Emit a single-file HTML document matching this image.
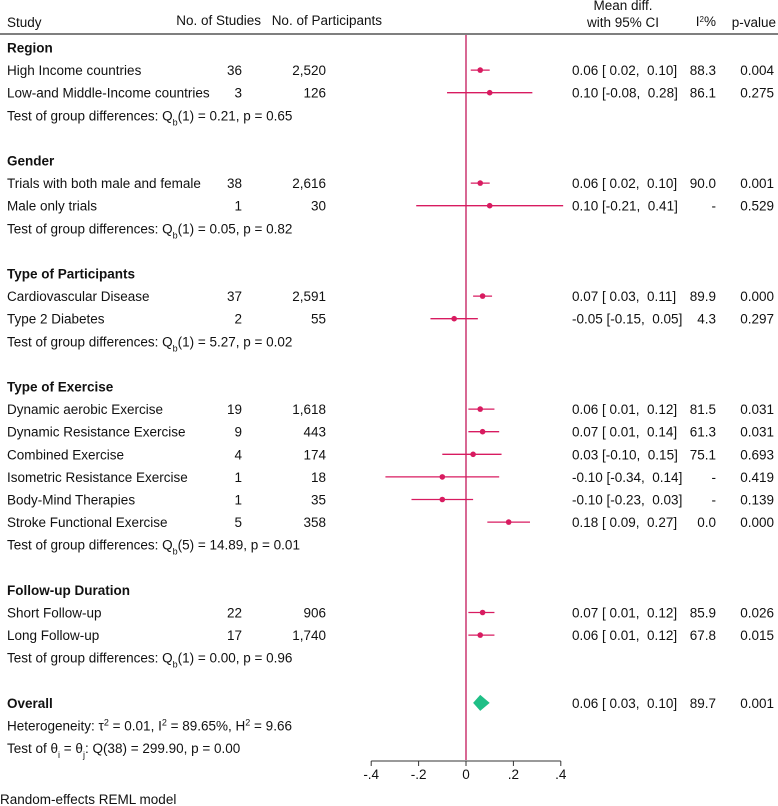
<!DOCTYPE html>
<html><head><meta charset="utf-8"><style>
body{margin:0;background:#fff}
svg{display:block;font-family:"Liberation Sans",Arial,sans-serif;font-size:13.5px;fill:#111}
</style></head><body>
<svg id="c" width="778" height="806" viewBox="0 0 778 806"></svg>
<script>
// rows: type h=heading, s=study, t=test text, o=overall, x=extra text, b=blank
const rowTypes=["h","s","s","t","b","h","s","s","t","b","h","s","s","t","b","h","s","s","s","s","s","s","t","b","h","s","s","t","b","o","x","x"];
const rowLabels=["Region","High Income countries","Low-and Middle-Income countries","Test of group differences: Q<sub>b</sub>(1) = 0.21, p = 0.65","",
"Gender","Trials with both male and female","Male only trials","Test of group differences: Q<sub>b</sub>(1) = 0.05, p = 0.82","",
"Type of Participants","Cardiovascular Disease","Type 2 Diabetes","Test of group differences: Q<sub>b</sub>(1) = 5.27, p = 0.02","",
"Type of Exercise","Dynamic aerobic Exercise","Dynamic Resistance Exercise","Combined Exercise","Isometric Resistance Exercise","Body-Mind Therapies","Stroke Functional Exercise","Test of group differences: Q<sub>b</sub>(5) = 14.89, p = 0.01","",
"Follow-up Duration","Short Follow-up","Long Follow-up","Test of group differences: Q<sub>b</sub>(1) = 0.00, p = 0.96","",
"Overall","Heterogeneity: τ<sup>2</sup> = 0.01, I<sup>2</sup> = 89.65%, H<sup>2</sup> = 9.66","Test of θ<sub>i</sub> = θ<sub>j</sub>: Q(38) = 299.90, p = 0.00"];
const nStudies=["","36","3","","","","38","1","","","","37","2","","","","19","9","4","1","1","5","","","","22","17","","","","",""];
const nPart=["","2,520","126","","","","2,616","30","","","","2,591","55","","","","1,618","443","174","18","35","358","","","","906","1,740","","","","",""];
const est=[null,0.06,0.10,null,null,null,0.06,0.10,null,null,null,0.07,-0.05,null,null,null,0.06,0.07,0.03,-0.10,-0.10,0.18,null,null,null,0.07,0.06,null,null,0.06,null,null];
const lo=[null,0.02,-0.08,null,null,null,0.02,-0.21,null,null,null,0.03,-0.15,null,null,null,0.01,0.01,-0.10,-0.34,-0.23,0.09,null,null,null,0.01,0.01,null,null,0.03,null,null];
const hi=[null,0.10,0.28,null,null,null,0.10,0.41,null,null,null,0.11,0.05,null,null,null,0.12,0.14,0.15,0.14,0.03,0.27,null,null,null,0.12,0.12,null,null,0.10,null,null];
const i2=["","88.3","86.1","","","","90.0","-","","","","89.9","4.3","","","","81.5","61.3","75.1","-","-","0.0","","","","85.9","67.8","","","89.7","",""];
const pval=["","0.004","0.275","","","","0.001","0.529","","","","0.000","0.297","","","","0.031","0.031","0.693","0.419","0.139","0.000","","","","0.026","0.015","","","0.001","",""];
const ticks=[-0.4,-0.2,0,0.2,0.4];
const tickLabels=["-.4","-.2","0",".2",".4"];

const svg=document.getElementById('c');
const X=v=>466+v*237;
const Y=i=>47.5+i*22.6;
const f=v=>(v<0?"-":"")+Math.abs(v).toFixed(2);
const fp=v=>(v<0?"-":" ")+Math.abs(v).toFixed(2);
let html="";
function t(x,y,s,anchor,name,extra){html+=`<text x="${x}" y="${y}" text-anchor="${anchor||'start'}" ${extra||''}>${s}</text>`;}
t(7,27,"Study","start","header-study");
t(261,25,"No. of Studies","end","header-studies");
t(382,25,"No. of Participants","end","header-participants");
t(623,10,"Mean diff.","middle","header-mean-diff");
t(623,27,"with 95% CI","middle","header-ci");
t(716,26,"I<tspan baseline-shift='super' font-size='8'>2</tspan>%","end","header-i2");
t(776,27,"p-value","end","header-pvalue");
html+=`<line x1="0" y1="34" x2="778" y2="34" stroke="#333" stroke-width="1.2"/>`;
html+=`<line x1="466" y1="35" x2="466" y2="760" stroke="#c2185b" stroke-width="1.3"/>`;
rowTypes.forEach((ty,i)=>{
 const y=Y(i)+5;
 let lab=rowLabels[i].replace(/<sub>(.*?)<\/sub>/g,"<tspan baseline-shift='sub' font-size='9'>$1</tspan>").replace(/<sup>(.*?)<\/sup>/g,"<tspan baseline-shift='super' font-size='9'>$1</tspan>");
 if(ty==="h"||ty==="o") t(7,y,lab,"start","group-heading",'font-weight="bold"');
 else if(ty!=="b") t(7,y,lab,"start",ty==="s"?"study-label":"test-text");
 if(nStudies[i]) t(242,y,nStudies[i],"end","n-studies");
 if(nPart[i]) t(326,y,nPart[i],"end","n-participants");
 if(est[i]!==null){
  t(572,y,`${f(est[i])} [${fp(lo[i])}, ${fp(hi[i])}]`,"start","ci-text",'xml:space="preserve"');
  t(716,y,i2[i],"end","i2-value");
  t(774,y,pval[i],"end","p-value");
  const cy=Y(i);
  if(ty==="o"){
   html+=`<polygon points="${X(lo[i])},${cy} ${X(est[i])},${cy-8} ${X(hi[i])},${cy} ${X(est[i])},${cy+8}" fill="#1fbf86"/>`;
  } else {
   html+=`<line x1="${X(lo[i])}" y1="${cy}" x2="${X(hi[i])}" y2="${cy}" stroke="#d81b60" stroke-width="1.3"/>`;
   html+=`<circle cx="${X(est[i])}" cy="${cy}" r="2.8" fill="#d81b60"/>`;
  }
 }
});
html+=`<line x1="${X(ticks[0])}" y1="761" x2="${X(ticks[ticks.length-1])}" y2="761" stroke="#333"/>`;
ticks.forEach((v,k)=>{
 html+=`<line x1="${X(v)}" y1="761" x2="${X(v)}" y2="766" stroke="#333"/>`;
 t(X(v),779,tickLabels[k],"middle","x-tick-label");
});
t(0,804,"Random-effects REML model","start","model-note");
svg.innerHTML=html;
</script>
</body></html>
